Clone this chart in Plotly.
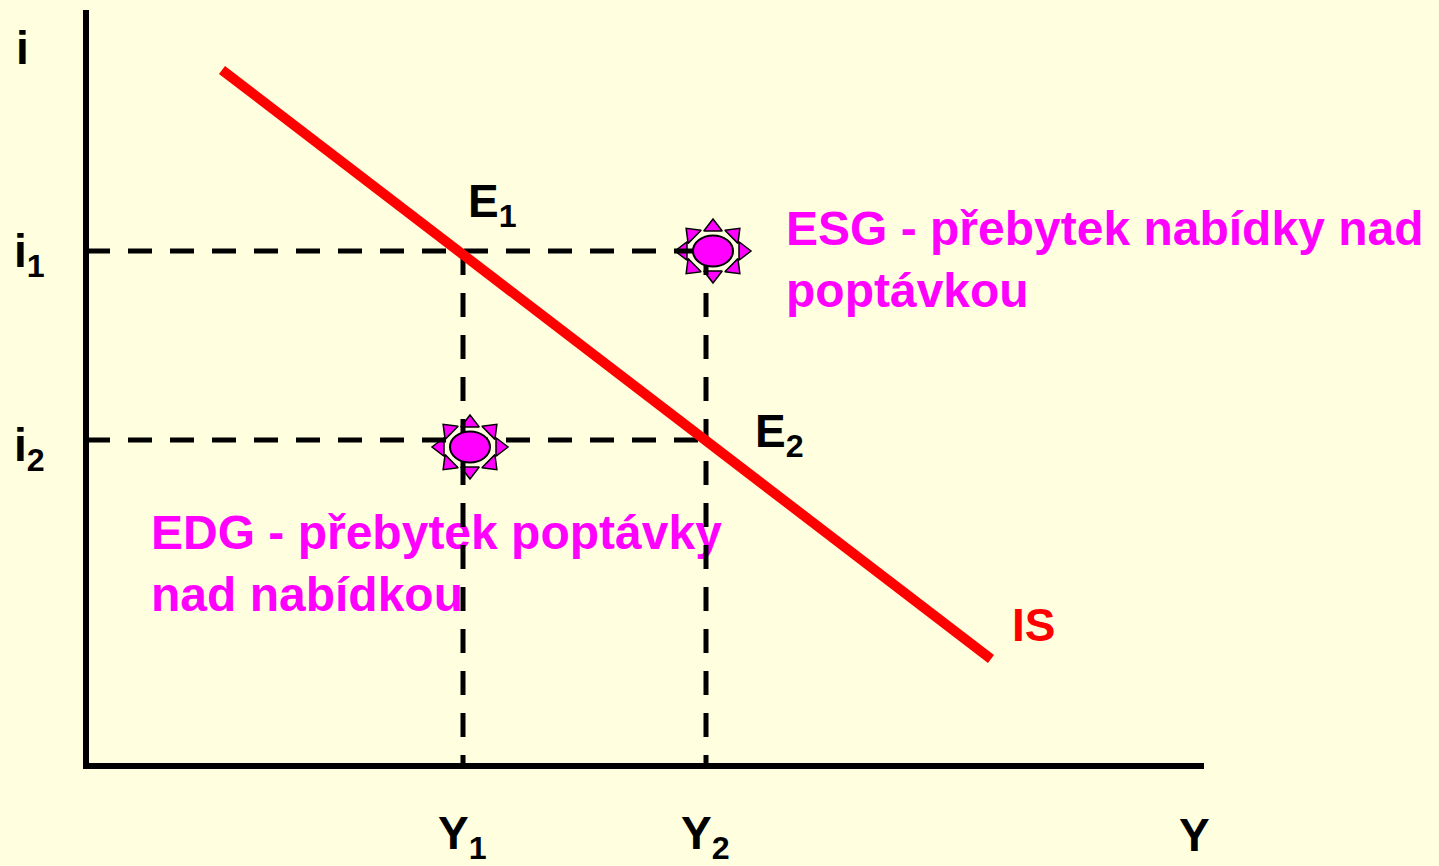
import plotly.graph_objects as go
import math

# ---- data (chart units: origin at axis intersection) ----
Y_vals = [377, 620]          # Y1, Y2
i_vals = [515, 326]          # i1, i2
Y_labels = ["Y<sub>1</sub>", "Y<sub>2</sub>"]
i_labels = ["i<sub>1</sub>", "i<sub>2</sub>"]
E_labels = ["E<sub>1</sub>", "E<sub>2</sub>"]
IS_x = [136, 905]
IS_y = [696, 107]
star_x = [627, 384]
star_y = [515, 319]
axis_x_end = 1118
axis_y_end = 756
esg_text = "ESG - přebytek nabídky nad<br>poptávkou"
edg_text = "EDG - přebytek poptávky<br>nad nabídkou"

BG = "#FFFFE0"
MAG = "#FF00FF"
FONT = "Liberation Sans, Arial, sans-serif"
FS = 46
FS_T = 48

fig = go.Figure()

# sun rays (triangles) beneath lines
dirs = [90, 45, 0, -45, -90, -135, 180, 135]
rx_t, ry_t = 30, 24
tx, ty, ta = [], [], []
for sx, sy in zip(star_x, star_y):
    for d in dirs:
        tx.append(sx + rx_t * math.cos(math.radians(d)))
        ty.append(sy + ry_t * math.sin(math.radians(d)))
        ta.append(90 - d)
fig.add_trace(go.Scatter(x=tx, y=ty, mode="markers",
                         marker=dict(symbol="triangle-up", size=16, angle=ta, color=MAG,
                                     line=dict(color="black", width=1.5)),
                         hoverinfo="skip", cliponaxis=False))

# texts as traces (so dashed lines draw over them)
fig.add_trace(go.Scatter(x=[700], y=[502], mode="text", text=[f"<b>{esg_text}</b>"],
                         textposition="middle right",
                         textfont=dict(family=FONT, size=FS_T, color=MAG),
                         hoverinfo="skip", cliponaxis=False))
fig.add_trace(go.Scatter(x=[65], y=[198], mode="text", text=[f"<b>{edg_text}</b>"],
                         textposition="middle right",
                         textfont=dict(family=FONT, size=FS_T, color=MAG),
                         hoverinfo="skip", cliponaxis=False))

# dashed guide lines
dash = dict(color="black", width=5, dash="24px,18px")
fig.add_trace(go.Scatter(x=[0, Y_vals[1]], y=[i_vals[0], i_vals[0]], mode="lines", line=dash,
                         hoverinfo="skip"))
fig.add_trace(go.Scatter(x=[0, Y_vals[1]], y=[i_vals[1], i_vals[1]], mode="lines", line=dash,
                         hoverinfo="skip"))
for yv in Y_vals:
    fig.add_trace(go.Scatter(x=[yv, yv], y=[i_vals[0], 0], mode="lines", line=dash,
                             hoverinfo="skip"))

# axes
fig.add_trace(go.Scatter(x=[0, 0], y=[axis_y_end, -3], mode="lines",
                         line=dict(color="black", width=6), hoverinfo="skip", cliponaxis=False))
fig.add_trace(go.Scatter(x=[-3, axis_x_end], y=[0, 0], mode="lines",
                         line=dict(color="black", width=6), hoverinfo="skip", cliponaxis=False))

# IS curve
fig.add_trace(go.Scatter(x=IS_x, y=IS_y, mode="lines", line=dict(color="#FF0000", width=10),
                         hoverinfo="skip"))

# sun bodies (ellipses) on top
for sx, sy in zip(star_x, star_y):
    fig.add_shape(type="circle", xref="x", yref="y", x0=sx - 20, x1=sx + 20, y0=sy - 15.5, y1=sy + 15.5,
                  fillcolor=MAG, line=dict(color="black", width=2), layer="above")

# labels
def ann(x, y, text, color="black", xanchor="left", size=FS):
    fig.add_annotation(x=x, y=y, text=f"<b>{text}</b>", showarrow=False, xanchor=xanchor,
                       yanchor="middle", font=dict(family=FONT, size=size, color=color))

ann(-72, 718, "i")
ann(-74, 512, i_labels[0])
ann(-74, 318, i_labels[1])
for yv, lab in zip(Y_vals, Y_labels):
    ann(yv - 27, -70, lab)
ann(1091, -69, "Y")
ann(380, 562, E_labels[0])
ann(667, 332, E_labels[1])
ann(924, 141, "IS", color="#FF0000")

fig.update_layout(
    width=1439, height=866, autosize=False,
    margin=dict(l=0, r=0, t=0, b=0),
    paper_bgcolor=BG, plot_bgcolor=BG,
    showlegend=False,
    xaxis=dict(range=[-86, 1353], visible=False, fixedrange=True),
    yaxis=dict(range=[-100, 766], visible=False, fixedrange=True),
)

fig.write_html("out.html", config={"displayModeBar": False},
               post_script="document.body.style.margin='0';document.body.style.overflow='hidden';")
